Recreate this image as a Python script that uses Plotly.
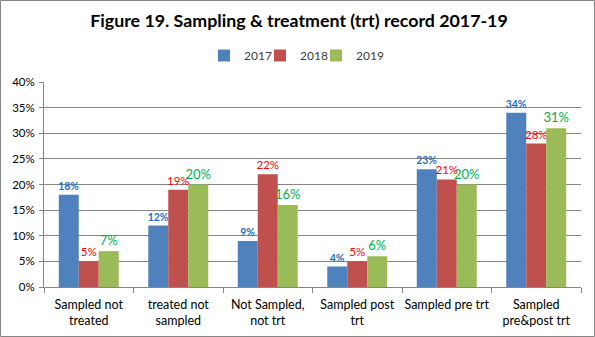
import plotly.graph_objects as go

categories = ["Sampled not<br>treated", "treated not<br>sampled", "Not Sampled,<br>not trt",
              "Sampled post<br>trt", "Sampled pre trt", "Sampled<br>pre&post trt"]
years = ["2017", "2018", "2019"]
v2017 = [18, 12, 9, 4, 23, 34]
v2018 = [5, 19, 22, 5, 21, 28]
v2019 = [7, 20, 16, 6, 20, 31]
y_ticks = [0, 5, 10, 15, 20, 25, 30, 35, 40]

bar_colors = ["#4F81BD", "#C0504D", "#9BBB59"]
label_colors = ["#1F6FC5", "#FF0000", "#00B050"]
FONT = "Lato"
label_fonts = [dict(size=10.5, family=FONT, color=label_colors[0], weight="bold"),
               dict(size=11.5, family=FONT, color=label_colors[1]),
               dict(size=13, family=FONT, color=label_colors[2])]

W, H = 595, 337
L, R, T, B = 44, 14, 82, 50
pw, ph = W - L - R, H - T - B

legend_names = ["legend", "legend2", "legend3"]
legend_x_px = [204, 260, 316]

fig = go.Figure()
for name, vals, col, tf, lg in zip(years, [v2017, v2018, v2019], bar_colors, label_fonts, legend_names):
    fig.add_trace(go.Bar(
        x=categories, y=[v / 100 for v in vals], name=name,
        marker=dict(color=col, line=dict(width=0)),
        text=[f"{v}%" for v in vals], textposition="outside",
        textfont=tf, cliponaxis=False, constraintext="none", legend=lg,
    ))

legend_common = dict(orientation="h", xanchor="left", xref="container",
                     y=1 - 55.5 / H, yanchor="middle", yref="container",
                     font=dict(size=12, color="#404040", family=FONT), itemwidth=30,
                     bgcolor="rgba(0,0,0,0)", borderwidth=0)
legends = {}
for lg, lx in zip(legend_names, legend_x_px):
    legends[lg] = dict(legend_common, x=lx / W)

fig.update_layout(
    width=W, height=H,
    margin=dict(l=L, r=R, t=T, b=B, autoexpand=False),
    paper_bgcolor="white", plot_bgcolor="white",
    barmode="group", bargap=0.33, bargroupgap=0,
    font=dict(family=FONT, color="#404040", size=11),
    title=dict(text="<b>Figure 19. Sampling & treatment (trt) record 2017-19</b>",
               x=299 / W, xanchor="center", xref="container",
               y=1 - 21 / H, yanchor="middle", yref="container",
               font=dict(size=17.8, color="#000000", family=FONT)),
    showlegend=True,
    **legends,
    xaxis=dict(showline=True, linecolor="#868686", linewidth=1,
               ticks="outside", tickson="boundaries", ticklen=5, tickcolor="#868686",
               showgrid=False, ticklabelstandoff=6, tickangle=0,
               tickfont=dict(size=12.5, color="#000000")),
    yaxis=dict(range=[0, 0.4], tickvals=[t / 100 for t in y_ticks],
               ticktext=[f"{t}%" for t in y_ticks],
               showline=True, linecolor="#868686", linewidth=1,
               showgrid=True, gridcolor="#868686", gridwidth=1,
               ticks="outside", ticklen=4, tickcolor="#868686", ticklabelstandoff=2,
               tickfont=dict(size=11.5, color="#000000"), zeroline=False),
    shapes=[dict(type="rect", xref="paper", yref="paper",
                 x0=-(L - 0.5) / pw, x1=(W - L - 0.5) / pw,
                 y0=-(B - 0.5) / ph, y1=(H - B - 0.5) / ph,
                 line=dict(color="#868686", width=1), fillcolor="rgba(0,0,0,0)", layer="below")],
)

fig.write_html("out.html")
